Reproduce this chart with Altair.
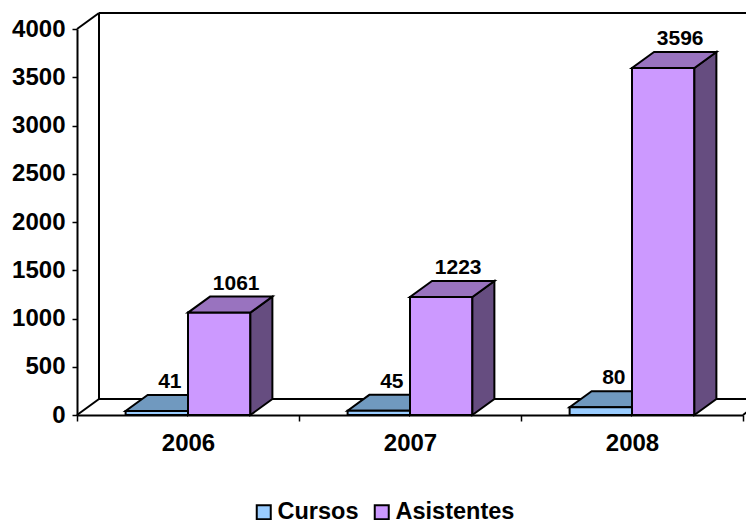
import altair as alt
import pandas as pd

YEARS = ["2006", "2007", "2008"]
CURSOS = [41, 45, 80]
ASISTENTES = [1061, 1223, 3596]
SERIES = ["Cursos", "Asistentes"]
FRONT = ["#99CCFF", "#CC99FF"]
TOP = ["#7099BF", "#9973BF"]
SIDE = ["#4D6680", "#664D80"]
Y_TICKS = [0, 500, 1000, 1500, 2000, 2500, 3000, 3500, 4000]

W, H = 666, 386
YMAX = 4000
DX = 22 / (W / 3)          # oblique depth in category units
DY = 16 / (H / YMAX)       # oblique depth in value units
GAP = 0.219
BARW = (1 - 2 * GAP) / 2
FONT = "Liberation Sans"

bars = []
for i, (yr, c, a) in enumerate(zip(YEARS, CURSOS, ASISTENTES)):
    for s, (name, v) in enumerate(zip(SERIES, (c, a))):
        x0 = i + GAP + s * BARW
        bars.append(dict(year=yr, series=name, s=s, v=v, x0=x0, x1=x0 + BARW))
bars = pd.DataFrame(bars)

top_rows, side_rows = [], []
for b in bars.itertuples():
    top_rows += [dict(id=b.year + b.series, s=b.s, y=b.v, a=b.x0, b=b.x1),
                 dict(id=b.year + b.series, s=b.s, y=b.v + DY, a=b.x0 + DX, b=b.x1 + DX)]
    side_rows += [dict(id=b.year + b.series, s=b.s, x=b.x1, lo=0, hi=b.v),
                  dict(id=b.year + b.series, s=b.s, x=b.x1 + DX, lo=DY, hi=b.v + DY)]
tops, sides = pd.DataFrame(top_rows), pd.DataFrame(side_rows)

XEND = 3 + 2 * DX
wall_segments = [
    [(DX, DY), (DX, YMAX + DY)],
    [(DX, YMAX + DY), (XEND, YMAX + DY)],
    [(0, YMAX), (DX, YMAX + DY)],
    [(0, 0), (DX, DY)],
    [(DX, DY), (XEND, DY)],
    [(3, 0), (3 + DX, DY)],
]
wall = pd.DataFrame([dict(seg=k, o=j, x=p[0], y=p[1])
                     for k, seg in enumerate(wall_segments) for j, p in enumerate(seg)])

xs = alt.Scale(domain=[0, 3], nice=False, zero=False)
ys = alt.Scale(domain=[0, YMAX], nice=False, zero=False)
label_expr = " : ".join(f"datum.value == {i + 0.5} ? '{y}'" for i, y in enumerate(YEARS)) + " : ''"

x_axis = alt.Axis(values=[0, 0.5, 1, 1.5, 2, 2.5, 3], title=None, labelExpr=label_expr, grid=False,
                  tickOpacity={"condition": {"test": "datum.value % 1 == 0", "value": 1}, "value": 0},
                  tickColor="black", tickWidth=1.5, tickSize=6, domainColor="black", domainWidth=2,
                  labelFont=FONT, labelFontWeight="bold", labelFontSize=24, labelColor="black",
                  labelPadding=10, labelOverlap=False, labelFlush=False)
y_axis = alt.Axis(values=Y_TICKS, title=None, grid=False, format="d", tickColor="black", tickWidth=1.5, tickSize=5,
                  domainColor="black", domainWidth=2, labelFont=FONT, labelFontWeight="bold",
                  labelFontSize=24, labelColor="black", labelPadding=7, labelOverlap=False)

walls = alt.Chart(wall).mark_line(color="black", strokeWidth=2).encode(
    x=alt.X("x:Q", scale=xs, axis=x_axis),
    y=alt.Y("y:Q", scale=ys, axis=y_axis),
    detail="seg:N", order="o:Q")


def faces(s):
    side = alt.Chart(sides[sides.s == s]).mark_area(fill=SIDE[s], stroke="black", strokeWidth=2, orient="vertical").encode(
        x=alt.X("x:Q", scale=xs), y=alt.Y("lo:Q", scale=ys), y2="hi:Q", detail="id:N")
    top = alt.Chart(tops[tops.s == s]).mark_area(fill=TOP[s], stroke="black", strokeWidth=2, orient="horizontal").encode(
        y=alt.Y("y:Q", scale=ys), x=alt.X("a:Q", scale=xs), x2="b:Q", detail="id:N")
    return side + top


front = alt.Chart(bars).mark_rect(stroke="black", strokeWidth=2).encode(
    x=alt.X("x0:Q", scale=xs), x2="x1:Q",
    y=alt.Y("v:Q", scale=ys), y2=alt.datum(0),
    color=alt.Color("series:N", scale=alt.Scale(domain=SERIES, range=FRONT), legend=alt.Legend(
        title=None, orient="none", legendX=175, legendY=471, direction="horizontal", columns=2,
        symbolType="square", symbolSize=196, symbolStrokeColor="black", symbolStrokeWidth=2,
        labelFont=FONT, labelFontWeight="bold", labelFontSize=23.5, labelColor="black",
        labelOffset=2, columnPadding=11, labelLimit=0)))


def value_labels(s, dx):
    d = bars[bars.s == s].assign(mid=lambda t: (t.x0 + t.x1) / 2)
    return alt.Chart(d).mark_text(
        font=FONT, fontWeight="bold", fontSize=21, color="black", dx=dx, dy=-23, baseline="alphabetic").encode(
        x=alt.X("mid:Q", scale=xs), y=alt.Y("v:Q", scale=ys), text="v:Q")


chart = alt.layer(walls, faces(0), front, faces(1), value_labels(0, 13), value_labels(1, 17)).properties(
    width=W, height=H,
    autosize=alt.AutoSizeParams(type="none"),
    padding={"left": 69, "top": 21, "right": 3, "bottom": 105},
    background="white",
).configure_view(stroke=None)

chart.save("out.html", embed_options={"renderer": "svg", "actions": False})
